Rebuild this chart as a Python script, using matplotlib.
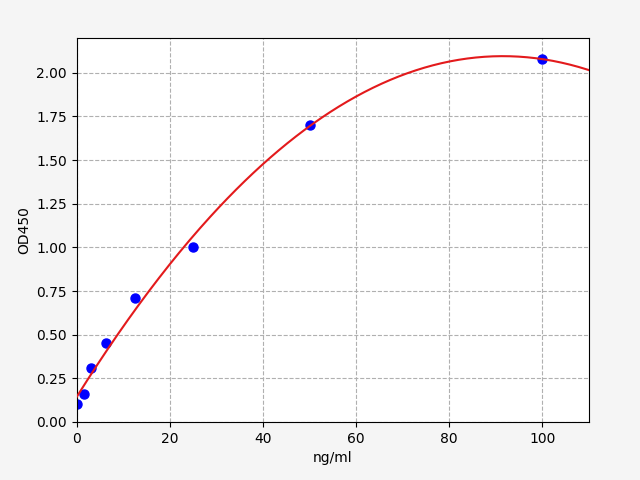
import numpy as np
import matplotlib.pyplot as plt

conc = [0, 1.56, 3.125, 6.25, 12.5, 25, 50, 100]
od450 = [0.10, 0.16, 0.31, 0.45, 0.71, 1.00, 1.70, 2.08]

# quadratic standard curve through the points
coef = np.polyfit(conc, od450, 2)
xs = np.linspace(0, 110, 300)
ys = np.polyval(coef, xs)

fig = plt.figure(figsize=(6.4, 4.8), dpi=100, facecolor="#f5f5f5")
fig.subplots_adjust(left=0.12, right=0.92, top=0.921, bottom=0.121)
ax = fig.add_subplot(111)
ax.plot(conc, od450, "o", color="blue", markersize=6.5, zorder=2)
ax.plot(xs, ys, color="#e31a1c", linewidth=1.5, zorder=3)
ax.grid(True, linestyle="--", color="#b0b0b0")
ax.set_xlim(0, 110)
ax.set_ylim(0, 2.2)
ax.set_xlabel("ng/ml")
ax.set_ylabel("OD450")
fig.savefig("out.png", facecolor=fig.get_facecolor())
